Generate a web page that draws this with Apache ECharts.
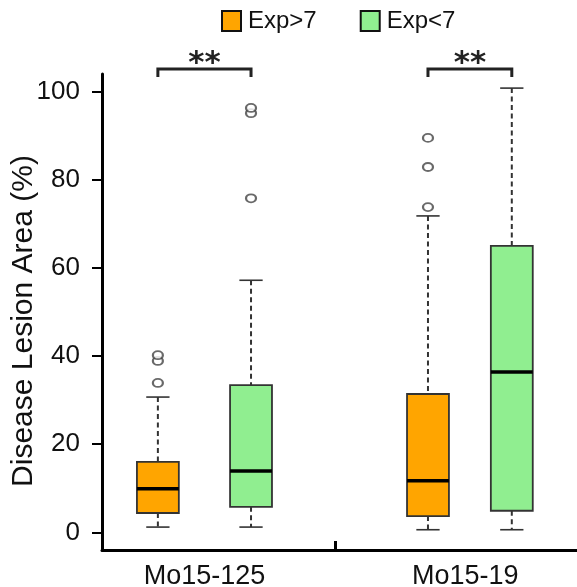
<!DOCTYPE html>
<html>
<head>
<meta charset="utf-8">
<script src="https://cdn.jsdelivr.net/npm/echarts@6/dist/echarts.min.js"></script>
<style>
html,body{margin:0;padding:0;background:#fff;}
#chart{width:577px;height:587px;}
</style>
</head>
<body>
<div id="chart"></div>
<script>
// ---------- data ----------
const categories = ['Mo15-125', 'Mo15-19'];
const seriesNames = ['Exp>7', 'Exp<7'];
// [lower whisker, Q1, median, Q3, upper whisker] per category
const expGt7Box = [[1.2, 4.4, 9.9, 16.0, 30.7], [0.6, 3.7, 11.7, 31.4, 71.8]];
const expLt7Box = [[1.2, 5.8, 13.9, 33.4, 57.2], [0.6, 4.9, 36.4, 65.0, 100.8]];
// outliers: [category index, value]
const expGt7Outliers = [[0, 33.9], [0, 38.9], [0, 40.2], [1, 73.8], [1, 82.9], [1, 89.5]];
const expLt7Outliers = [[0, 75.8], [0, 95.1], [0, 96.3]];
const significance = ['**', '**'];
const yTicks = [0, 20, 40, 60, 80, 100];

// ---------- layout (slot positions on a fine category axis) ----------
const SLOT_COUNT = 52;
const boxSlots = [[6, 16], [35, 44]];   // [Exp>7 slot, Exp<7 slot] per category
const labelSlots = [11, 39];
const dividerSlot = 25;
const colors = ['#FFA500', '#90EE90'];
const FONT = "'Liberation Sans', Arial, sans-serif";

const slots = [];
for (let i = 0; i < SLOT_COUNT; i++) slots.push('');
labelSlots.forEach((s, i) => { slots[s] = categories[i]; });

function boxData(stats, which) {
  return stats.map((s, ci) => [boxSlots[ci][which]].concat(s));
}
function outlierData(list, which) {
  return list.map(o => [boxSlots[o[0]][which], o[1]]);
}

function renderBox(params, api) {
  const x = api.value(0);
  const lo = api.coord([x, api.value(1)]);
  const q1 = api.coord([x, api.value(2)]);
  const med = api.coord([x, api.value(3)]);
  const q3 = api.coord([x, api.value(4)]);
  const hi = api.coord([x, api.value(5)]);
  const slotW = api.size([1, 0])[0];
  const hw = slotW * 2.25;
  const cw = slotW * 1.25;
  const cx = med[0];
  const dash = {stroke: '#333', lineWidth: 2, lineDash: [5, 3.5]};
  const solid = {stroke: '#333', lineWidth: 1.6};
  return {
    type: 'group',
    children: [
      {type: 'line', shape: {x1: cx, y1: hi[1], x2: cx, y2: q3[1]}, style: dash},
      {type: 'line', shape: {x1: cx, y1: q1[1], x2: cx, y2: lo[1]}, style: dash},
      {type: 'line', shape: {x1: cx - cw, y1: hi[1], x2: cx + cw, y2: hi[1]}, style: solid},
      {type: 'line', shape: {x1: cx - cw, y1: lo[1], x2: cx + cw, y2: lo[1]}, style: solid},
      {type: 'rect', shape: {x: cx - hw, y: q3[1], width: hw * 2, height: q1[1] - q3[1]},
        style: {fill: api.visual('color'), stroke: '#333', lineWidth: 1.8}},
      {type: 'line', shape: {x1: cx - hw, y1: med[1], x2: cx + hw, y2: med[1]},
        style: {stroke: '#000', lineWidth: 3.5}}
    ]
  };
}

function renderBracket(params, api) {
  const a = api.coord([api.value(0), 0])[0];
  const b = api.coord([api.value(1), 0])[0];
  const y = params.coordSys.y - 5;
  return {
    type: 'group',
    children: [
      {type: 'polyline', shape: {points: [[a, y + 8], [a, y], [b, y], [b, y + 8]]},
        style: {stroke: '#222', lineWidth: 3, fill: null}},
      {type: 'text', x: (a + b) / 2, y: y + 10,
        style: {text: significance[params.dataIndex], fill: '#222', font: "bold 31px 'DejaVu Sans'",
          align: 'center', verticalAlign: 'bottom'}}
    ]
  };
}

const bracketData = boxSlots.map(p => [p[0], p[1]]);

const option = {
  animation: false,
  backgroundColor: '#fff',
  legend: {
    top: 4,
    left: 216,
    itemWidth: 19,
    itemHeight: 20,
    itemGap: 43,
    textStyle: {fontFamily: FONT, fontSize: 24, color: '#111', padding: [0, 0, 0, 2]},
    data: seriesNames.map((n, i) => ({
      name: n, icon: 'rect',
      itemStyle: {color: colors[i], borderColor: '#111', borderWidth: 2}
    }))
  },
  grid: {left: 102, right: 0, top: 74, bottom: 37, outerBoundsMode: 'none', containLabel: false},
  xAxis: {
    type: 'category',
    data: slots,
    boundaryGap: false,
    axisLine: {onZero: false, lineStyle: {color: '#000', width: 3}},
    axisTick: {show: true, inside: true, length: 9, lineStyle: {color: '#000', width: 3},
      interval: (idx) => idx === dividerSlot},
    axisLabel: {interval: (idx) => labelSlots.indexOf(idx) >= 0, margin: 13,
      fontFamily: FONT, fontSize: 27, color: '#111'},
    splitLine: {show: false}
  },
  yAxis: {
    type: 'value',
    min: -4,
    max: 104,
    name: 'Disease Lesion Area (%)',
    nameLocation: 'middle',
    nameGap: 63,
    nameMoveOverlap: false,
    nameTextStyle: {fontFamily: FONT, fontSize: 30, color: '#111', padding: [0, 18, 0, 0]},
    axisLine: {show: true, lineStyle: {color: '#000', width: 3}},
    axisTick: {show: true, length: 10, lineStyle: {color: '#000', width: 2}, customValues: yTicks},
    axisLabel: {margin: 22, fontFamily: FONT, fontSize: 26, color: '#111', customValues: yTicks},
    splitLine: {show: false}
  },
  series: [
    {name: seriesNames[0], type: 'custom', renderItem: renderBox, itemStyle: {color: colors[0]},
      encode: {x: 0, y: [1, 2, 3, 4, 5]}, data: boxData(expGt7Box, 0), z: 2},
    {name: seriesNames[1], type: 'custom', renderItem: renderBox, itemStyle: {color: colors[1]},
      encode: {x: 0, y: [1, 2, 3, 4, 5]}, data: boxData(expLt7Box, 1), z: 2},
    {name: seriesNames[0], type: 'scatter', symbol: 'emptyCircle', symbolSize: [10, 8],
      itemStyle: {color: '#444', borderWidth: 1.5}, data: outlierData(expGt7Outliers, 0), z: 3},
    {name: seriesNames[1], type: 'scatter', symbol: 'emptyCircle', symbolSize: [10, 8],
      itemStyle: {color: '#444', borderWidth: 1.5}, data: outlierData(expLt7Outliers, 1), z: 3},
    {type: 'custom', renderItem: renderBracket, encode: {x: [0, 1]}, data: bracketData,
      clip: false, silent: true, z: 4}
  ]
};

const chart = echarts.init(document.getElementById('chart'), null, {renderer: 'canvas'});
chart.setOption(option);
</script>
</body>
</html>
